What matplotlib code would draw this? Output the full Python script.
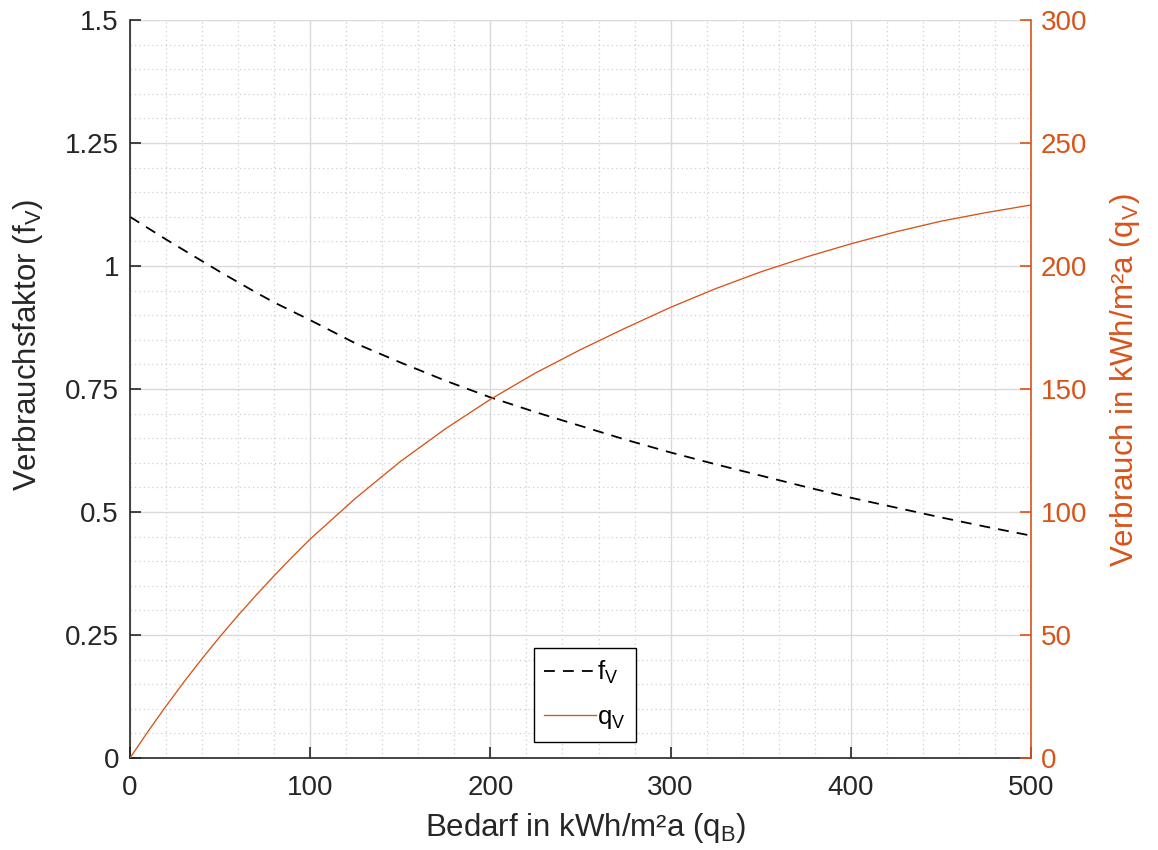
import matplotlib
matplotlib.use("Agg")
import matplotlib.pyplot as plt
from matplotlib.ticker import MultipleLocator, FuncFormatter

plt.rcParams['font.family'] = ['Liberation Sans', 'DejaVu Sans']
plt.rcParams['mathtext.fontset'] = 'custom'
plt.rcParams['mathtext.rm'] = 'Liberation Sans'
plt.rcParams['mathtext.it'] = 'Liberation Sans'

# Data
q_bedarf = [0, 10, 20, 30, 40, 50, 60, 70, 80, 90, 100, 125, 150, 175, 200, 225,
            250, 275, 300, 325, 350, 375, 400, 425, 450, 475, 500]
f_v = [1.100, 1.077, 1.054, 1.032, 1.010, 0.988, 0.967, 0.946, 0.926, 0.908,
       0.890, 0.843, 0.804, 0.767, 0.733, 0.703, 0.675, 0.647, 0.621, 0.597,
       0.574, 0.551, 0.529, 0.509, 0.489, 0.470, 0.452]
q_v = [0.0, 10.8, 21.1, 31.0, 40.4, 49.4, 58.0, 66.2, 74.1, 81.7,
       89.0, 105.5, 120.5, 133.8, 145.8, 156.5, 166.0, 174.8, 183.2, 190.8,
       197.6, 203.6, 209.0, 213.9, 218.2, 221.7, 224.8]

x_ticks = [0, 100, 200, 300, 400, 500]
left_ticks = [0, 0.25, 0.5, 0.75, 1, 1.25, 1.5]
right_ticks = [0, 50, 100, 150, 200, 250, 300]

ORANGE = '#D95319'
DARK = '#262626'
FS_TICK = 20
FS_LABEL = 22.5

fig = plt.figure(figsize=(11.58, 8.5), dpi=100)
ax1 = fig.add_axes([130/1158, 1-758/850, (1031-130)/1158, (758-20)/850])
ax2 = ax1.twinx()

l1, = ax1.plot(q_bedarf, f_v, linestyle=(0, (6, 4.5)), color='black', lw=1.3,
               label=r'f$_\mathregular{V}$')
l2, = ax2.plot(q_bedarf, q_v, linestyle='-', color=ORANGE, lw=0.95,
               label=r'q$_\mathregular{V}$')

ax1.set_xlim(0, 500)
ax1.set_ylim(0, 1.5)
ax2.set_ylim(0, 300)

ax1.set_xticks(x_ticks)
ax1.set_yticks(left_ticks)
ax2.set_yticks(right_ticks)
ax1.yaxis.set_major_formatter(FuncFormatter(lambda v, p: ('%g' % v)))
ax1.xaxis.set_minor_locator(MultipleLocator(20))
ax1.yaxis.set_minor_locator(MultipleLocator(0.05))

ax1.grid(True, which='major', color='#d9d9d9', lw=1.0)
ax1.grid(True, which='minor', color='#cfcfcf', lw=0.9, linestyle=(0, (1, 2.5)))
ax1.set_axisbelow(True)

ax1.tick_params(axis='both', which='major', direction='in', length=8, width=1.2,
                labelsize=FS_TICK, colors=DARK)
ax1.tick_params(axis='y', pad=8)
ax1.tick_params(axis='x', pad=12)
ax1.tick_params(axis='both', which='minor', length=0)
ax2.tick_params(axis='y', which='major', direction='in', length=8, width=1.2,
                labelsize=FS_TICK, colors=ORANGE, pad=7)

ax1.spines['top'].set_visible(False)
ax2.spines['top'].set_visible(False)
ax1.spines['left'].set_color(DARK)
ax1.spines['bottom'].set_color(DARK)
ax1.spines['left'].set_linewidth(1.2)
ax1.spines['bottom'].set_linewidth(1.2)
ax2.spines['right'].set_color(ORANGE)
ax2.spines['right'].set_linewidth(1.2)
ax2.spines['left'].set_visible(False)
ax2.spines['bottom'].set_visible(False)
ax1.spines['right'].set_visible(False)

ax1.set_xlabel(r'Bedarf in kWh/m²a (q$_\mathregular{B}$)', fontsize=FS_LABEL, color=DARK)
ax1.set_ylabel(r'Verbrauchsfaktor (f$_\mathregular{V}$)', fontsize=FS_LABEL, color=DARK)
ax2.set_ylabel(r'Verbrauch in kWh/m²a (q$_\mathregular{V}$)', fontsize=FS_LABEL, color=ORANGE)

ax1.xaxis.set_label_coords(0.506, -0.095)
ax1.xaxis.label.set_verticalalignment('center')
ax1.yaxis.set_label_coords(-0.113, 0.56)
ax1.yaxis.label.set_verticalalignment('center')
ax1.yaxis.label.set_horizontalalignment('center')
ax2.yaxis.set_label_coords(1.104, 0.512)
ax2.yaxis.label.set_verticalalignment('center')
ax2.yaxis.label.set_horizontalalignment('center')

leg = ax2.legend(handles=[l1, l2], loc='lower center', bbox_to_anchor=(0.505, 0.022),
                 fontsize=18.5, frameon=True, fancybox=False, edgecolor='black',
                 handlelength=2.0, handletextpad=0.05, borderpad=0.42,
                 labelspacing=0.72, borderaxespad=0)
leg.get_frame().set_linewidth(1.0)
leg.get_frame().set_alpha(1)

fig.savefig('out.png', dpi=100, facecolor='white')
